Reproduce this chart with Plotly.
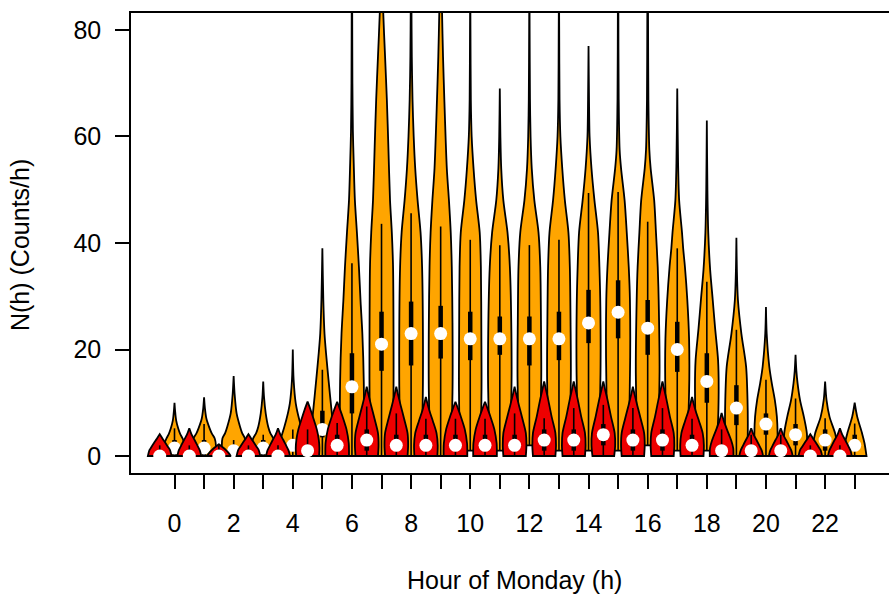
import plotly.graph_objects as go

# ---- hours -------------------------------------------------------------
hours = list(range(24))
tick_text = [str(h) if h % 2 == 0 else "" for h in hours]

# ---- all counts (orange): per-hour summary ----------------------------
all_min = [0, 0, 0, 0, 0, 0, 0, 0, 0, 0, 1, 1, 2, 1, 1, 1, 2, 1, 1, 0, 0, 0, 0, 0]
all_q1 = [0, 0, 0, 0, 1, 3.5, 8, 16, 17, 18.3, 18, 19, 17, 18, 21.2, 22.1, 19, 15.8, 10, 5.8, 4, 2, 1, 1]
all_med = [1.5, 1.5, 1, 1.5, 2, 5, 13, 21, 23, 23, 22, 22, 22, 22, 25, 27, 24, 20, 14, 9, 6, 4, 3, 2]
all_q3 = [3, 3, 2, 3, 3, 8.5, 19.3, 27.1, 29, 28.2, 27.1, 26.2, 26.2, 27.1, 31.2, 33, 29.3, 25.2, 19.3, 13.3, 8, 6, 5, 4]
all_whisk = [5.2, 6, 3, 4, 5, 16.2, 36.2, 43.6, 45.6, 43.1, 40.6, 39.6, 39.6, 40.6, 49.4, 49.6, 44, 39, 32.7, 23.7, 14.3, 10.8, 7.1, 6.1]

# density profiles (count level, relative density) for each hour
all_levels = [
    [0, 1.5, 3.3, 4.2, 5.2, 6.7, 8.5, 10],
    [0, 2, 3.3, 4.2, 5.2, 7, 9, 11],
    [0, 2, 3.3, 4.3, 5.5, 8, 11.7, 15],
    [0, 2, 3.3, 4.3, 5.5, 8, 11, 14],
    [0, 2.5, 3.3, 5, 6.7, 9.9, 14.3, 20],
    [0, 2, 4, 8, 14.3, 19.3, 23, 29.3, 39],
    [0, 5, 14, 23, 29, 35.5, 42, 48, 55, 61, 70, 85, 95],
    [0, 5, 10, 30, 36, 42, 48, 58, 67, 75, 83, 92, 100],
    [0, 5, 10, 23, 35.5, 42, 48, 54, 60, 67, 75, 85, 95],
    [0, 5, 12, 25, 35.5, 42, 48, 54, 67, 75, 83, 95, 105],
    [1, 5, 12, 23, 35.5, 42, 48, 54, 60, 67, 80, 90],
    [1, 5, 12, 23, 35.5, 42, 48, 54, 60, 69],
    [2, 6, 14, 25, 35.5, 42, 48, 54, 60, 67, 80, 95],
    [1, 5, 14, 25, 35.5, 42, 48, 54, 60, 67, 80, 90],
    [1, 5, 14, 28, 35.5, 42, 48, 54, 60, 67, 77],
    [1, 5, 15, 29.3, 35.5, 42, 48, 54, 57.5, 67, 85, 100],
    [2, 6, 15, 29.3, 35.5, 42, 48, 54, 57.5, 67, 83, 90],
    [1, 5, 12, 22, 29.3, 35.5, 39, 42, 48, 55, 69],
    [1, 5, 12, 18, 24, 29.3, 35, 42, 50, 63],
    [0, 4.2, 10.5, 16.8, 23, 29.3, 35, 41],
    [0, 4.2, 7.4, 10.5, 13.7, 16.8, 23, 28],
    [0, 4.2, 7.4, 10.5, 13.7, 16, 19],
    [0, 2.4, 4.2, 7.4, 10.5, 14],
    [0, 2.4, 4.2, 7.4, 10],
]
all_density = [
    [0.95, 1.0, 0.68, 0.47, 0.31, 0.14, 0.05, 0],
    [0.95, 1.0, 0.9, 0.66, 0.47, 0.2, 0.07, 0],
    [0.95, 1.0, 0.95, 0.72, 0.54, 0.25, 0.08, 0],
    [0.95, 1.0, 0.85, 0.6, 0.42, 0.21, 0.07, 0],
    [0.95, 1.0, 1.0, 0.78, 0.56, 0.25, 0.07, 0],
    [0.95, 1.0, 1.0, 0.8, 0.52, 0.31, 0.18, 0.08, 0],
    [0.8, 1.0, 1.0, 0.88, 0.73, 0.59, 0.42, 0.25, 0.15, 0.08, 0.04, 0.02, 0],
    [0.6, 0.9, 1.0, 1.0, 0.97, 0.87, 0.72, 0.58, 0.45, 0.3, 0.15, 0.05, 0],
    [0.6, 0.9, 0.98, 1.0, 0.93, 0.8, 0.55, 0.35, 0.22, 0.12, 0.06, 0.03, 0],
    [0.6, 0.9, 1.0, 1.0, 0.94, 0.85, 0.7, 0.52, 0.31, 0.2, 0.12, 0.03, 0],
    [0.4, 0.85, 0.95, 0.94, 0.9, 0.8, 0.5, 0.28, 0.12, 0.05, 0.02, 0],
    [0.4, 0.85, 0.98, 0.98, 0.85, 0.65, 0.3, 0.12, 0.05, 0],
    [0.4, 0.85, 1.0, 0.98, 0.92, 0.77, 0.42, 0.2, 0.1, 0.05, 0.02, 0],
    [0.4, 0.85, 1.0, 0.98, 0.92, 0.8, 0.5, 0.28, 0.12, 0.05, 0.02, 0],
    [0.4, 0.85, 1.0, 1.0, 0.92, 0.8, 0.5, 0.25, 0.09, 0.04, 0],
    [0.4, 0.85, 1.0, 1.0, 0.9, 0.73, 0.55, 0.25, 0.13, 0.05, 0.02, 0],
    [0.4, 0.85, 1.0, 0.93, 0.85, 0.7, 0.55, 0.25, 0.14, 0.06, 0.03, 0],
    [0.4, 0.85, 1.0, 1.0, 0.85, 0.65, 0.5, 0.4, 0.16, 0.07, 0],
    [0.6, 0.9, 1.0, 0.95, 0.7, 0.5, 0.28, 0.12, 0.05, 0],
    [0.9, 0.96, 0.94, 0.82, 0.42, 0.13, 0.04, 0],
    [0.95, 0.98, 0.92, 0.75, 0.49, 0.28, 0.06, 0],
    [0.95, 0.96, 0.7, 0.38, 0.17, 0.07, 0],
    [0.97, 0.99, 0.85, 0.37, 0.12, 0],
    [1.0, 0.83, 0.63, 0.21, 0],
]

# ---- subset counts (red): drawn half an hour to the left --------------
sub_min = [0] * 24
sub_q1 = [0, 0, 0, 0, 0, 0, 1, 1, 1, 1, 1, 1, 1, 1, 1, 2, 1, 1, 1, 0, 0, 0, 0, 0]
sub_med = [0, 0, 0, 0, 0, 1, 2, 3, 2, 2, 2, 2, 2, 3, 3, 4, 3, 3, 2, 1, 1, 1, 0, 0]
sub_q3 = [1, 1, 1, 1, 1, 2, 4, 5, 4, 4, 4, 4, 4, 5, 5, 6, 5, 5, 4, 2, 2, 2, 1, 1]
sub_whisk = [2, 2, 2, 2, 2, 5, 6.2, 9.3, 8, 7, 7, 7, 8, 7.1, 9, 9.6, 9, 9, 7, 5, 4, 4, 2, 2]

sub_levels = [
    [0, 0.5, 1.1, 1.7, 2.4, 3.3, 4.1],
    [0, 0.5, 1.1, 2, 3, 4, 5.2],
    [0, 0.5, 1.1, 1.6, 2.2],
    [0, 0.5, 1.1, 1.7, 2.4, 3.3, 4.1],
    [0, 0.5, 1.1, 2, 3, 4, 5.2],
    [0, 1.5, 3, 5, 7, 8.5, 9.5, 10.2],
    [0, 1.2, 2.4, 5, 7.5, 9, 10.2],
    [0, 2, 4.3, 7, 9.5, 11.5, 12.4, 13],
    [0, 2, 4.3, 7, 9.5, 11.5, 12.4, 13],
    [0, 2, 4.3, 6.5, 8.5, 10, 10.6, 11.1],
    [0, 1.2, 2.4, 5, 7.5, 9, 10.2],
    [0, 1.2, 2.4, 5, 7.5, 9, 10.2],
    [0, 2, 4.3, 7, 9.5, 11.5, 12.4, 13],
    [0, 2, 4.3, 7.4, 10.5, 12.5, 13.4, 14],
    [0, 2, 4.3, 7.4, 10.5, 12.5, 13.4, 14],
    [0, 2, 4.3, 7.4, 10.5, 12.5, 13.4, 14],
    [0, 2, 4.3, 7, 9.5, 11.5, 12.4, 13],
    [0, 2, 4.3, 7.4, 10.5, 12.5, 13.4, 14],
    [0, 2, 4.3, 6.5, 8.5, 10, 10.6, 11.1],
    [0, 1.5, 3, 5, 6.5, 7.4, 8.1],
    [0, 0.5, 1.1, 2, 3, 4, 5.2],
    [0, 0.5, 1.1, 2, 3, 4, 5.2],
    [0, 0.5, 1.1, 1.7, 2.4, 3.3, 4.1],
    [0, 0.5, 1.1, 2, 3, 4, 5.2],
]
sub_density = [
    [1.0, 0.95, 0.87, 0.7, 0.5, 0.23, 0],
    [1.0, 0.96, 0.88, 0.68, 0.45, 0.2, 0],
    [1.0, 0.85, 0.6, 0.35, 0],
    [1.0, 0.95, 0.87, 0.7, 0.5, 0.23, 0],
    [1.0, 0.96, 0.88, 0.68, 0.45, 0.2, 0],
    [0.97, 1.0, 0.95, 0.78, 0.5, 0.28, 0.12, 0],
    [1.0, 1.0, 0.98, 0.79, 0.44, 0.2, 0],
    [0.95, 1.0, 0.95, 0.66, 0.37, 0.15, 0.06, 0],
    [0.95, 1.0, 0.95, 0.66, 0.37, 0.15, 0.06, 0],
    [0.97, 1.0, 0.9, 0.6, 0.3, 0.12, 0.05, 0],
    [1.0, 1.0, 0.98, 0.79, 0.44, 0.2, 0],
    [1.0, 1.0, 0.98, 0.79, 0.44, 0.2, 0],
    [0.95, 1.0, 0.95, 0.66, 0.37, 0.15, 0.06, 0],
    [0.95, 1.0, 0.95, 0.63, 0.35, 0.15, 0.06, 0],
    [0.95, 1.0, 0.95, 0.63, 0.35, 0.15, 0.06, 0],
    [0.92, 1.0, 0.96, 0.65, 0.36, 0.15, 0.06, 0],
    [0.95, 1.0, 0.95, 0.66, 0.37, 0.15, 0.06, 0],
    [0.95, 1.0, 0.95, 0.63, 0.35, 0.15, 0.06, 0],
    [0.97, 1.0, 0.9, 0.6, 0.3, 0.12, 0.05, 0],
    [1.0, 0.98, 0.8, 0.45, 0.2, 0.08, 0],
    [1.0, 0.96, 0.88, 0.68, 0.45, 0.2, 0],
    [1.0, 0.96, 0.88, 0.68, 0.45, 0.2, 0],
    [1.0, 0.95, 0.87, 0.7, 0.5, 0.23, 0],
    [1.0, 0.96, 0.88, 0.68, 0.45, 0.2, 0],
]

ORANGE = "#FFA500"
RED = "#EE0000"
HALF_WIDTH = 0.4   # half-width of a violin at its densest level
FONT = "Liberation Sans, Arial, sans-serif"
FONT_SIZE = 25

fig = go.Figure()


def add_group(centers, levels, density, vmin, q1, med, q3, whisk, color):
    # violin bodies: flat base (repeated corner points keep it square),
    # smooth sides meeting at the maximum
    for c, lv, dn in zip(centers, levels, density):
        right_x = [c + HALF_WIDTH * d for d in dn]
        left_x = [c - HALF_WIDTH * d for d in reversed(dn)]
        xs = [right_x[0]] + right_x + left_x + [left_x[-1], right_x[0], right_x[0]]
        ys = [lv[0]] + list(lv) + list(reversed(lv)) + [lv[0], lv[0], lv[0]]
        fig.add_trace(go.Scatter(
            x=xs, y=ys, mode="lines", fill="toself", fillcolor=color,
            line=dict(color="black", width=1.8, shape="spline", smoothing=0.8,
                      simplify=False),
            hoverinfo="skip", showlegend=False))
    # whiskers
    wx, wy = [], []
    for c, lo, hi in zip(centers, vmin, whisk):
        wx += [c, c, None]
        wy += [lo, hi, None]
    fig.add_trace(go.Scatter(x=wx, y=wy, mode="lines",
                             line=dict(color="black", width=1.6),
                             hoverinfo="skip", showlegend=False))
    # inter-quartile boxes
    bx, by = [], []
    for c, a, b in zip(centers, q1, q3):
        bx += [c, c, None]
        by += [a, b, None]
    fig.add_trace(go.Scatter(x=bx, y=by, mode="lines",
                             line=dict(color="black", width=4.5),
                             hoverinfo="skip", showlegend=False))
    # medians
    fig.add_trace(go.Scatter(x=centers, y=med, mode="markers",
                             marker=dict(color="white", size=13, line=dict(width=0)),
                             hoverinfo="skip", showlegend=False))


add_group(hours, all_levels, all_density, all_min, all_q1, all_med, all_q3, all_whisk, ORANGE)
add_group([h - 0.5 for h in hours], sub_levels, sub_density, sub_min, sub_q1, sub_med, sub_q3,
          sub_whisk, RED)

fig.update_layout(
    width=889, height=595,
    margin=dict(l=131, r=0, t=13, b=122),
    paper_bgcolor="white", plot_bgcolor="white",
    font=dict(family=FONT, size=FONT_SIZE, color="black"),
    xaxis=dict(range=[-1.471, 24.16], showgrid=False, zeroline=False,
               showline=True, mirror=True, linecolor="black", linewidth=1.5,
               ticks="outside", ticklen=14, tickwidth=1.5, tickcolor="black",
               tickvals=hours, ticktext=tick_text, ticklabelstandoff=13,
               tickfont=dict(family=FONT, size=FONT_SIZE, color="black")),
    yaxis=dict(range=[-3.19, 83.19], showgrid=False, zeroline=False,
               showline=True, linecolor="black", linewidth=1.5,
               ticks="outside", ticklen=14, tickwidth=1.5, tickcolor="black",
               tickvals=[0, 20, 40, 60, 80], ticklabelstandoff=9,
               tickfont=dict(family=FONT, size=FONT_SIZE, color="black")),
    annotations=[
        dict(text="Hour of Monday (h)", xref="paper", yref="paper",
             x=0.5053, y=-0.2326, xanchor="center", yanchor="middle",
             showarrow=False, font=dict(family=FONT, size=FONT_SIZE, color="black")),
        dict(text="N(h) (Counts/h)", xref="paper", yref="paper",
             x=-0.1464, y=0.4957, xanchor="center", yanchor="middle", textangle=-90,
             showarrow=False, font=dict(family=FONT, size=FONT_SIZE, color="black")),
    ],
)

fig.write_html("out.html")
